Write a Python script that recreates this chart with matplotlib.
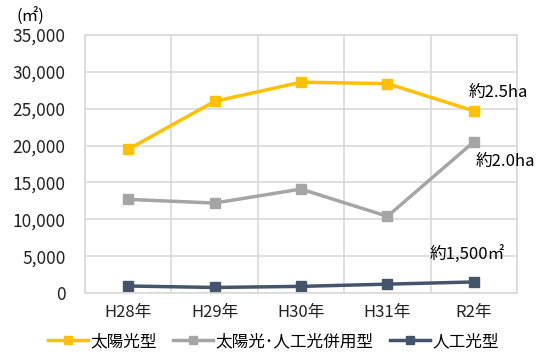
import matplotlib.pyplot as plt
from matplotlib.ticker import FuncFormatter

plt.rcParams['font.family'] = ['Noto Sans CJK JP', 'DejaVu Sans']

years = ["H28年", "H29年", "H30年", "H31年", "R2年"]
solar = [19500, 26000, 28600, 28400, 24700]
hybrid = [12700, 12200, 14100, 10400, 20500]
artificial = [950, 750, 900, 1200, 1500]

fig = plt.figure(figsize=(5.47, 3.56), dpi=100)
ax = fig.add_axes([85 / 547, 1 - 293 / 356, 432 / 547, 258 / 356])

x = list(range(len(years)))
ax.plot(x, solar, color="#FFC000", lw=2.5, marker="s", ms=7, label="太陽光型")
ax.plot(x, hybrid, color="#A5A5A5", lw=2.5, marker="s", ms=7, label="太陽光･人工光併用型")
ax.plot(x, artificial, color="#44546A", lw=2.5, marker="s", ms=7, label="人工光型")

ax.set_xlim(-0.5, len(years) - 0.5)
ax.set_ylim(0, 35000)
ax.set_yticks(range(0, 35001, 5000))
ax.yaxis.set_major_formatter(FuncFormatter(lambda v, p: f"{int(v):,}"))
ax.set_xticks(x)
ax.set_xticklabels(years)
ax.set_xticks([i + 0.5 for i in range(-1, len(years))], minor=True)

ax.grid(True, axis="y", color="#D9D9D9", lw=1.2)
ax.grid(True, axis="x", which="minor", color="#D9D9D9", lw=1.2)
ax.set_axisbelow(True)
for s in ax.spines.values():
    s.set_color("#D9D9D9")
    s.set_linewidth(1.2)
ax.tick_params(which="both", length=0, colors="#222222")
ax.tick_params(axis="y", pad=14, labelsize=12.5)
ax.tick_params(axis="x", pad=8, labelsize=12)

fig.text(30 / 547, 1 - 17 / 356, "(㎡)", fontsize=12, ha="center", va="center")
ax.annotate("約2.5ha", (4, solar[4]), xytext=(-4, 10), textcoords="offset points", fontsize=12)
ax.annotate("約2.0ha", (4, hybrid[4]), xytext=(1, -17), textcoords="offset points", fontsize=12)
ax.annotate("約1,500㎡", (4, artificial[4]), xytext=(-32, 16), textcoords="offset points", fontsize=12)

fig.legend(loc="lower center", bbox_to_anchor=(0.5, -0.025), ncol=3, frameon=False,
           fontsize=12, handlelength=2.4, handletextpad=0.15, columnspacing=1.0,
           markerscale=0.8)

fig.savefig("out.png", dpi=100)
